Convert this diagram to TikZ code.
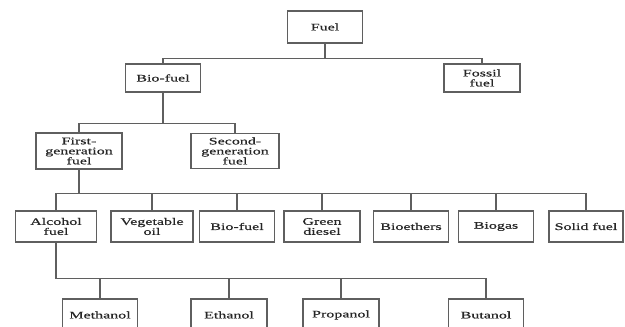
\documentclass[tikz,border=0pt]{standalone}
\usepackage{fontspec}
\setmainfont{Liberation Serif}[FakeStretch=1.6,FakeBold=0.6]
\usepackage{tikz}
\definecolor{treegray}{RGB}{95,95,95}
\tikzset{
  fuelbox/.style={draw=treegray,line width=1.1pt,rectangle,align=center,inner sep=0pt,
    text=black!85,font=\fontsize{10}{10}\selectfont},
  branch/.style={draw=treegray,line width=1.1pt},
}
\begin{document}
\begin{tikzpicture}[x=1pt,y=-1pt]
        \clip (0,0) rectangle (625,327);
        % level 0 and 1
        \node[fuelbox,minimum width=75pt,minimum height=32pt] (fuel) at (325,27) {Fuel};
        \node[fuelbox,minimum width=75pt,minimum height=28pt] (bio) at (163,78) {Bio-fuel};
        \node[fuelbox,minimum width=76pt,minimum height=28pt] (fossil) at (482,78) {Fossil\\fuel};
        % level 2
        \node[fuelbox,minimum width=86pt,minimum height=36pt] (first) at (79,151) {First-\\generation\\fuel};
        \node[fuelbox,minimum width=88pt,minimum height=35pt] (second) at (235,151) {Second-\\generation\\fuel};
        % level 3
        \node[fuelbox,minimum width=81pt,minimum height=31pt] (alcohol) at (56,226.5) {Alcohol\\fuel};
        \node[fuelbox,minimum width=82pt,minimum height=31pt] (veg) at (152,226.5) {Vegetable\\oil};
        \node[fuelbox,minimum width=75pt,minimum height=31pt] (biof) at (237,226.5) {Bio-fuel};
        \node[fuelbox,minimum width=76pt,minimum height=31pt] (green) at (322,226.5) {Green\\diesel};
        \node[fuelbox,minimum width=75pt,minimum height=31pt] (bioeth) at (411,226.5) {Bioethers};
        \node[fuelbox,minimum width=75pt,minimum height=31pt] (biogas) at (496,226.5) {Biogas};
        \node[fuelbox,minimum width=74pt,minimum height=31pt] (solid) at (586,226.5) {Solid fuel};
        % level 4
        \node[fuelbox,minimum width=75pt,minimum height=32pt] (meth) at (100,315) {Methanol};
        \node[fuelbox,minimum width=76pt,minimum height=32pt] (eth) at (229,315) {Ethanol};
        \node[fuelbox,minimum width=76pt,minimum height=32pt] (prop) at (341,315) {Propanol};
        \node[fuelbox,minimum width=75pt,minimum height=32pt] (but) at (486,315) {Butanol};
        % connectors
        \draw[branch] (fuel.south) -- ++(0,15) coordinate (fuelbar);
        \draw[branch] (bio.north) |- (fuelbar) -| (fossil.north);
        \draw[branch] (bio.south) -- ++(0,31) coordinate (biobar);
        \draw[branch] (first.north) |- (biobar) -| (second.north);
        \draw[branch] (first.south) -- ++(0,24) coordinate (firstbar);
        \draw[branch] (alcohol.north) |- (firstbar) -| (solid.north);
        \foreach \n in {veg,biof,green,bioeth,biogas}
          \draw[branch] (\n.north) -- (\n.north |- firstbar);
        \draw[branch] (alcohol.south) -- ++(0,36) coordinate (alcbar);
        \draw[branch] (alcbar) -| (but.north);
        \foreach \n in {meth,eth,prop}
          \draw[branch] (\n.north) -- (\n.north |- alcbar);
      \end{tikzpicture}
\end{document}
